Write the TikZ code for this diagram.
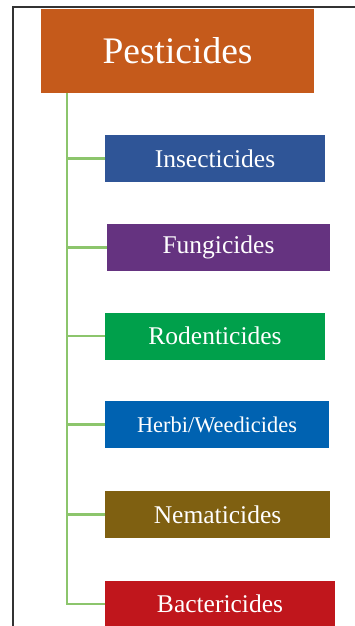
\documentclass[tikz,border=0pt]{standalone}
\usepackage{fontspec}
\setmainfont{Liberation Serif}
\usetikzlibrary{positioning}
\definecolor{pestorange}{HTML}{C55A1B}
\definecolor{insblue}{HTML}{2F5597}
\definecolor{fungpurple}{HTML}{653380}
\definecolor{rodgreen}{HTML}{00A04B}
\definecolor{herbblue}{HTML}{0062B1}
\definecolor{nemaolive}{HTML}{7F6011}
\definecolor{bactred}{HTML}{C0161C}
\definecolor{branchgreen}{HTML}{8CC56C}

\begin{document}
\begin{tikzpicture}[x=1pt,y=-1pt,
  catbox/.style={fill=#1,text=white,minimum height=47pt,inner sep=0pt,outer sep=0pt,anchor=west,font=\fontsize{25.5}{28}\selectfont},
  branch/.style={draw=branchgreen,line width=2.2pt}]
  \useasboundingbox (0,0) rectangle (355,626);
  % marco
  \draw[line width=1.8pt,black!80] (355,7)--(13,7)--(13,626);
  % raiz
  \node[fill=pestorange,text=white,minimum width=273pt,minimum height=84pt,inner sep=0pt,outer sep=0pt,
        font=\fontsize{37.5}{40}\selectfont] (pest) at (177.5,51){Pesticides};
  \coordinate (trunk) at (67,93);
  % clases
  \node[catbox=insblue,minimum width=220pt] (ins) at (105,158.5){Insecticides};
  \node[catbox=fungpurple,minimum width=223pt] (fung) at (107,247.5){Fungicides};
  \node[catbox=rodgreen,minimum width=220pt] (rod) at (105,336){Rodenticides};
  \node[catbox=herbblue,minimum width=224pt,font=\fontsize{22.4}{25}\selectfont] (herb) at (105,424.5){Herbi/Weedicides};
  \node[catbox=nemaolive,minimum width=225pt] (nema) at (105,514.5){Nematicides};
  \node[catbox=bactred,minimum width=230pt] (bact) at (105,604){Bactericides};
  % ramas
  \foreach \n in {ins,fung,rod,herb,nema,bact}
    \draw[branch] (trunk) |- (\n.west);
\end{tikzpicture}
\end{document}
